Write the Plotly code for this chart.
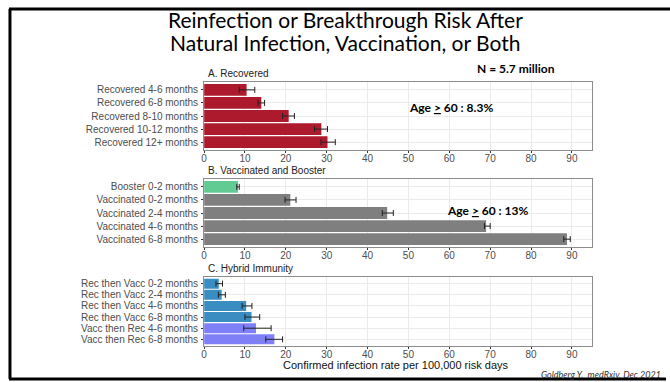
import plotly.graph_objects as go

W, H = 670, 382

rec_labels = ["Recovered 4-6 months", "Recovered 6-8 months", "Recovered 8-10 months",
              "Recovered 10-12 months", "Recovered 12+ months"]
rec_vals = [10.4, 14.0, 20.7, 28.7, 30.2]
rec_lo = [8.6, 13.2, 19.2, 27.0, 28.6]
rec_hi = [12.4, 14.8, 22.1, 30.2, 32.1]

vac_labels = ["Booster 0-2 months", "Vaccinated 0-2 months", "Vaccinated 2-4 months",
              "Vaccinated 4-6 months", "Vaccinated 6-8 months"]
vac_vals = [8.3, 21.1, 44.8, 69.0, 88.8]
vac_lo = [8.0, 19.8, 43.6, 68.6, 88.0]
vac_hi = [8.6, 22.5, 46.3, 70.0, 89.6]

hyb_labels = ["Rec then Vacc 0-2 months", "Rec then Vacc 2-4 months", "Rec then Vacc 4-6 months",
              "Rec then Vacc 6-8 months", "Vacc then Rec 4-6 months", "Vacc then Rec 6-8 months"]
hyb_vals = [3.6, 4.3, 10.3, 11.6, 12.7, 17.2]
hyb_lo = [2.9, 3.5, 9.3, 10.0, 9.7, 15.1]
hyb_hi = [4.5, 5.2, 11.7, 13.6, 16.4, 19.2]

x_ticks = [0, 10, 20, 30, 40, 50, 60, 70, 80, 90]

RED = "#AE1A2D"
GREEN = "#62CB93"
GRAY = "#7F7F7F"
BLUE = "#3A8DC1"
VIOLET = "#7F80F8"

rec_colors = [RED] * 5
vac_colors = [GREEN] + [GRAY] * 4
hyb_colors = [BLUE] * 4 + [VIOLET] * 2


def fx(x):
    return x / W


def fy(y):
    return 1 - y / H


panels = [
    (rec_labels, rec_vals, rec_lo, rec_hi, rec_colors, 82, 150, "A. Recovered"),
    (vac_labels, vac_vals, vac_lo, vac_hi, vac_colors, 179, 247, "B. Vaccinated and Booster"),
    (hyb_labels, hyb_vals, hyb_lo, hyb_hi, hyb_colors, 277, 346, "C. Hybrid Immunity"),
]

fig = go.Figure()
annotations = []
X0, X1 = 202, 592
for i, (labels, vals, lo, hi, cols, top, bot, title) in enumerate(panels):
    sfx = "" if i == 0 else str(i + 1)
    fig.add_trace(go.Bar(
        y=labels, x=vals, orientation="h",
        marker=dict(color=cols, line=dict(width=0)),
        width=0.9,
        error_x=dict(type="data", symmetric=False,
                     array=[h - v for h, v in zip(hi, vals)],
                     arrayminus=[v - l for v, l in zip(vals, lo)],
                     color="#222222", thickness=1, width=3),
        xaxis="x" + sfx, yaxis="y" + sfx, showlegend=False,
    ))
    n = len(labels)
    fig.layout["xaxis" + sfx] = dict(
        domain=[fx(X0), fx(X1)], anchor="y" + sfx, range=[0, 95],
        tickmode="array", tickvals=x_ticks, ticks="outside", ticklen=2, tickcolor="#333333",
        ticklabelstandoff=-3,
        showgrid=True, gridcolor="#EBEBEB", gridwidth=1, zeroline=False,
        showline=True, linecolor="#8C8C8C", linewidth=1, mirror=True,
        tickfont=dict(family="Liberation Sans", size=10, color="#4D4D4D"),
    )
    fig.layout["yaxis" + sfx] = dict(
        domain=[fy(bot), fy(top)], anchor="x" + sfx,
        type="category", categoryorder="array", categoryarray=labels,
        tickmode="array", tickvals=labels, ticktext=labels,
        range=[n - 1 + 0.6, -0.6],
        ticks="outside", ticklen=2, tickcolor="#333333", ticklabelstandoff=1,
        showgrid=True, gridcolor="#EBEBEB", gridwidth=1, zeroline=False,
        showline=True, linecolor="#8C8C8C", linewidth=1, mirror=True,
        tickfont=dict(family="Liberation Sans", size=10, color="#4D4D4D"),
    )
    annotations.append(dict(
        text=title, x=fx(X0 + 2), y=fy(top - 1), xref="paper", yref="paper",
        xanchor="left", yanchor="bottom", showarrow=False,
        font=dict(family="Liberation Sans", size=10, color="#222222"),
    ))

title_font = dict(family="Lato", size=21, color="#000000")
annotations += [
    dict(text="Reinfection or Breakthrough Risk After",
         x=fx(344), y=fy(19.5), xref="paper", yref="paper", xanchor="center", yanchor="middle",
         showarrow=False, font=title_font),
    dict(text="Natural Infection, Vaccination, or Both",
         x=fx(344), y=fy(42), xref="paper", yref="paper", xanchor="center", yanchor="middle",
         showarrow=False, font=title_font),
    dict(text="<b>N = 5.7 million</b>", x=fx(515), y=fy(69), xref="paper", yref="paper",
         xanchor="center", yanchor="middle", showarrow=False,
         font=dict(family="Lato", size=12, color="#000000")),
    dict(text="<b>Age <span style='text-decoration:underline'>></span> 60 : 8.3%</b>",
         x=fx(450), y=fy(108), xref="paper", yref="paper",
         xanchor="center", yanchor="middle", showarrow=False,
         font=dict(family="Lato", size=12, color="#000000")),
    dict(text="<b>Age <span style='text-decoration:underline'>></span> 60 : 13%</b>",
         x=fx(487), y=fy(210), xref="paper", yref="paper",
         xanchor="center", yanchor="middle", showarrow=False,
         font=dict(family="Lato", size=12, color="#000000")),
    dict(text="Confirmed infection rate per 100,000 risk days", x=fx(395), y=fy(365),
         xref="paper", yref="paper", xanchor="center", yanchor="middle", showarrow=False,
         font=dict(family="Liberation Sans", size=11, color="#111111")),
    dict(text="<i>Goldberg Y.  medRxiv, Dec 2021</i>", x=fx(663), y=fy(374),
         xref="paper", yref="paper", xanchor="right", yanchor="middle", showarrow=False,
         font=dict(family="Lato", size=9, color="#333333")),
]

shapes = [
    dict(type="line", xref="paper", yref="paper", x0=fx(6), x1=1, y0=fy(9), y1=fy(9),
         line=dict(color="#000000", width=3)),
    dict(type="line", xref="paper", yref="paper", x0=fx(7), x1=fx(7), y0=fy(9), y1=fy(379),
         line=dict(color="#000000", width=3)),
    dict(type="line", xref="paper", yref="paper", x0=fx(6), x1=fx(666), y0=fy(379), y1=fy(379),
         line=dict(color="#000000", width=3)),
]

fig.update_layout(
    width=W, height=H, margin=dict(l=0, r=0, t=0, b=0),
    paper_bgcolor="white", plot_bgcolor="white",
    annotations=annotations, shapes=shapes, bargap=0.1,
)

fig.write_html("out.html", config={"displayModeBar": False},
               post_script="document.body.style.margin='0';document.body.style.overflow='hidden';")
